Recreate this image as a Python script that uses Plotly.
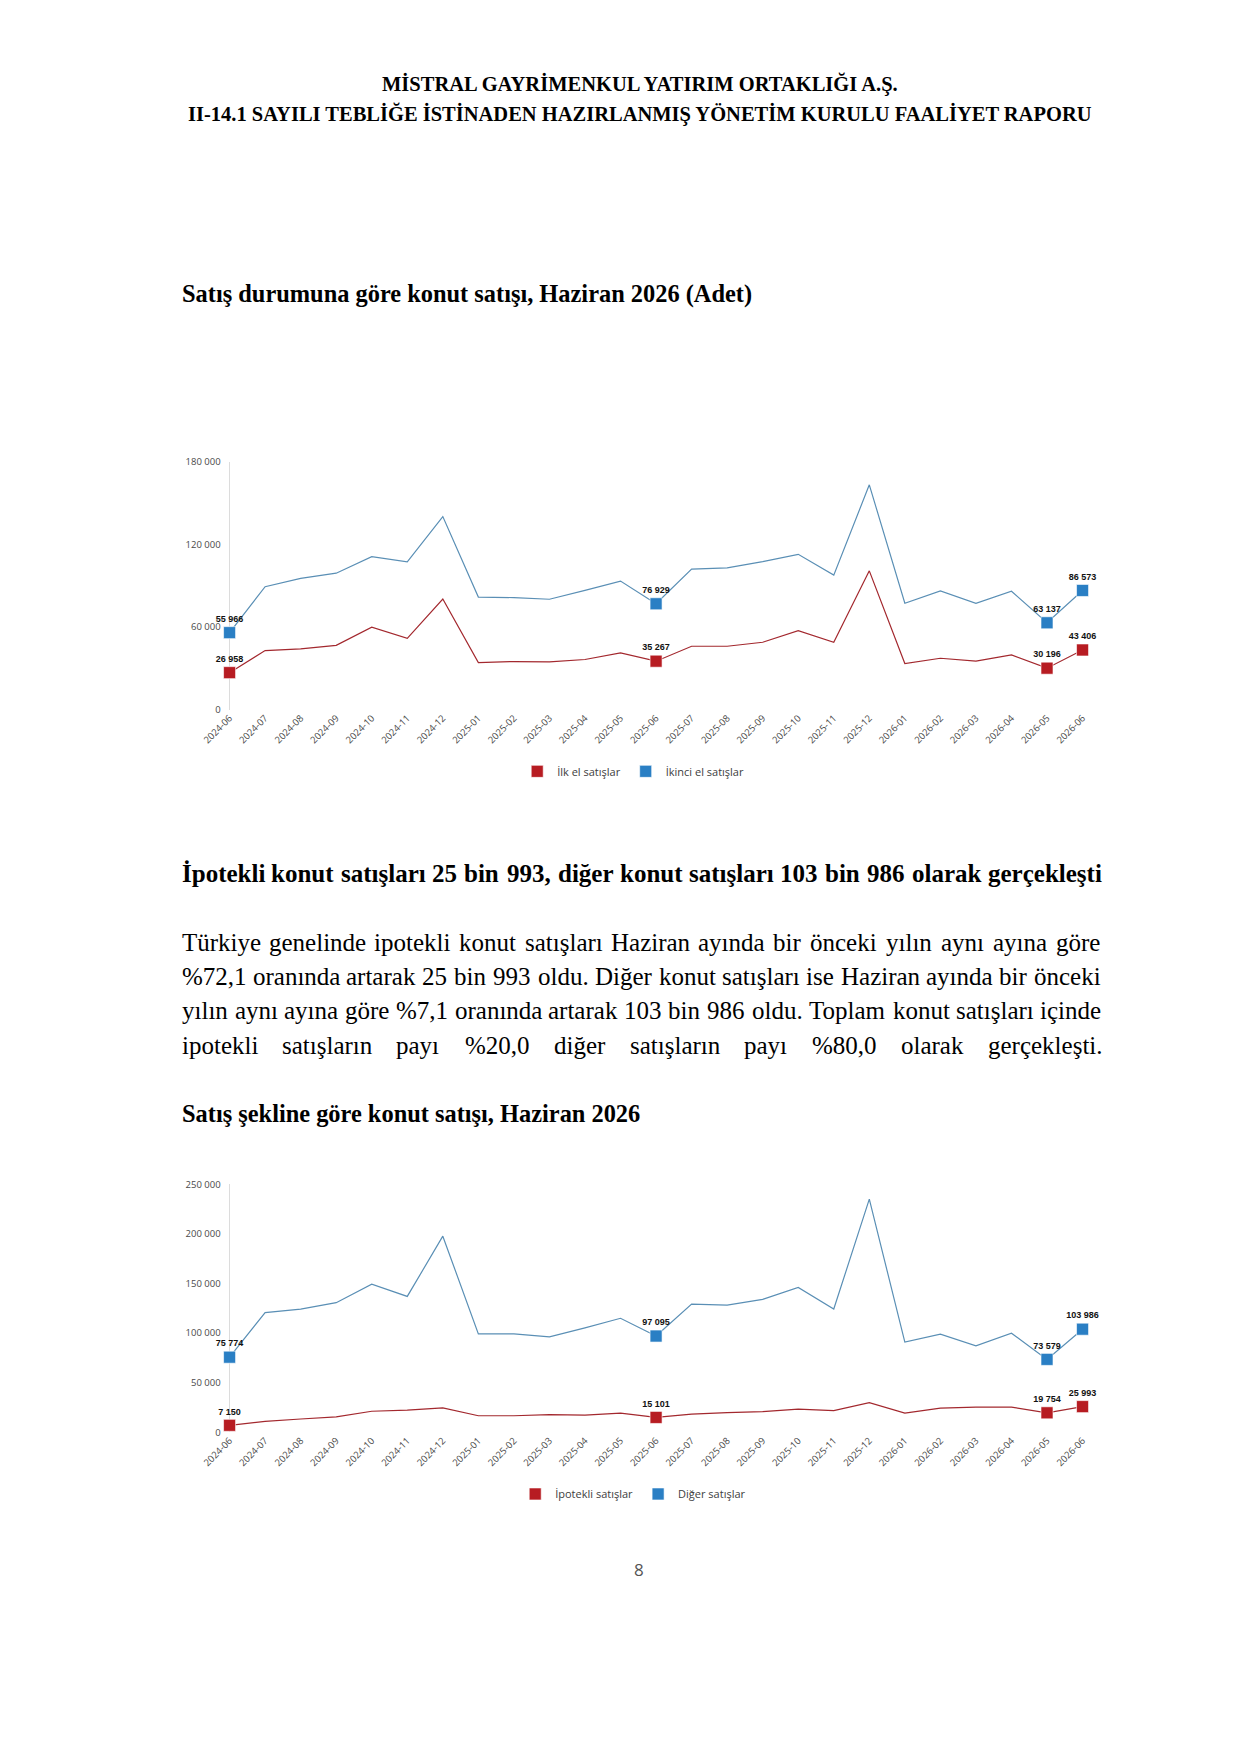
import plotly.graph_objects as go

# page size in px
W, H = 1241, 1754

months = ["2024-06", "2024-07", "2024-08", "2024-09", "2024-10", "2024-11", "2024-12",
          "2025-01", "2025-02", "2025-03", "2025-04", "2025-05", "2025-06", "2025-07",
          "2025-08", "2025-09", "2025-10", "2025-11", "2025-12", "2026-01", "2026-02",
          "2026-03", "2026-04", "2026-05", "2026-06"]

# chart 1 - satis durumuna gore
ilk_el = [26958, 43000, 44200, 46800, 60000, 51800, 80400, 34300, 35000, 34800, 36500, 41300,
          35267, 46100, 46100, 49000, 57400, 49000, 100800, 33600, 37400, 35300, 39800, 30196, 43406]
ikinci_el = [55966, 89300, 95300, 99100, 111100, 107300, 140200, 81800, 81400, 80200, 86600, 93400,
             76929, 102000, 103000, 107500, 112800, 97700, 163200, 77300, 86200, 77300, 86000, 63137, 86573]

# chart 2 - satis sekline gore
ipotekli = [7150, 11200, 13500, 15700, 21300, 22400, 24700, 16800, 16800, 17900, 17500, 19500,
            15101, 18500, 20000, 21000, 23500, 22000, 30000, 19500, 24500, 25500, 25500, 19754, 25993]
diger = [75774, 120700, 124300, 130700, 149300, 137000, 197700, 99300, 99300, 96300, 105300, 115000,
         97095, 129300, 128300, 134000, 146000, 124300, 235000, 91000, 99000, 87300, 100000, 73579, 103986]

labeled = [0, 12, 23, 24]  # points with a square + value

ticks1 = [0, 60000, 120000, 180000]
ticks2 = [0, 50000, 100000, 150000, 200000, 250000]

RED_LINE, BLUE_LINE = "#a3282e", "#5a8fb5"
RED, BLUE = "#b71c22", "#2a7fc4"


def px(x):
    return x / W


def py(y):
    return 1 - y / H


fig = go.Figure()


def add_series(vals, name, line_c, mark_c, xa, ya, leg):
    fig.add_trace(go.Scatter(x=months, y=vals, mode="lines", line=dict(color=line_c, width=1.2),
                             xaxis=xa, yaxis=ya, showlegend=False, hoverinfo="skip"))
    fig.add_trace(go.Scatter(x=[months[i] for i in labeled], y=[vals[i] for i in labeled],
                             mode="markers+text", name=name, legend=leg,
                             marker=dict(symbol="square", size=12, color=mark_c,
                                         line=dict(color="white", width=0.6)),
                             texttemplate="<b>%{y:,.0f}</b>", textposition="top center",
                             textfont=dict(family="Liberation Sans", size=9, color="#111"),
                             cliponaxis=False, xaxis=xa, yaxis=ya))


add_series(ilk_el, "İlk el satışlar", RED_LINE, RED, "x", "y", "legend")
add_series(ikinci_el, "İkinci el satışlar", BLUE_LINE, BLUE, "x", "y", "legend")
add_series(ipotekli, "İpotekli satışlar", RED_LINE, RED, "x2", "y2", "legend2")
add_series(diger, "Diğer satışlar", BLUE_LINE, BLUE, "x2", "y2", "legend2")

tickfont = dict(family="Open Sans", size=9.5, color="#4a4a4a")
legfont = dict(family="Open Sans", size=11, color="#404040")
xdom = [px(198), px(1075)]

fig.update_layout(
    width=W, height=H, margin=dict(l=0, r=0, t=0, b=0),
    paper_bgcolor="white", plot_bgcolor="rgba(0,0,0,0)",
    separators=". ",
    xaxis=dict(domain=xdom, anchor="y", type="category", range=[0, 24], showgrid=False,
               zeroline=False, showline=False, tickangle=-45, tickfont=tickfont, ticks=""),
    yaxis=dict(domain=[py(700), py(450)], anchor="x", range=[0, 180000], tickvals=ticks1,
               tickformat=",.0f", showgrid=False, zeroline=False, showline=True, layer="below traces",
               linecolor="#dcdcdc", linewidth=1, tickfont=tickfont, ticks="", ticklabelstandoff=6),
    xaxis2=dict(domain=xdom, anchor="y2", type="category", range=[0, 24], showgrid=False,
                zeroline=False, showline=False, tickangle=-45, tickfont=tickfont, ticks=""),
    yaxis2=dict(domain=[py(1428), py(1178)], anchor="x2", range=[0, 250000], tickvals=ticks2,
                tickformat=",.0f", showgrid=False, zeroline=False, showline=True, layer="below traces",
                linecolor="#dcdcdc", linewidth=1, tickfont=tickfont, ticks="", ticklabelstandoff=6),
    legend=dict(orientation="h", x=px(613), xanchor="center", y=py(762), yanchor="middle",
                font=legfont, itemwidth=30),
    legend2=dict(orientation="h", x=px(613), xanchor="center", y=py(1490), yanchor="middle",
                 font=legfont, itemwidth=30),
)

# Times-like glyph widths (per 1000 em) to justify the text lines
REG = {" ": 250, "%": 833, ",": 250, ".": 250, "-": 333, "(": 333, ")": 333,
       "a": 444, "b": 500, "c": 444, "d": 500, "e": 444, "f": 333, "g": 500, "h": 500, "i": 278,
       "j": 278, "k": 500, "l": 278, "m": 778, "n": 500, "o": 500, "p": 500, "r": 333, "s": 389,
       "t": 278, "u": 500, "v": 500, "y": 500, "z": 444, "ç": 444, "ğ": 500, "ı": 278, "ö": 500,
       "ş": 389, "ü": 500, "T": 611, "D": 722, "H": 722, "İ": 333}
BOLD = {" ": 250, ",": 250, ".": 250, "a": 500, "b": 556, "c": 444, "d": 556, "e": 444, "f": 333,
        "g": 500, "h": 556, "i": 278, "k": 556, "l": 278, "m": 833, "n": 556, "o": 500, "p": 556,
        "r": 444, "s": 389, "t": 333, "u": 556, "y": 500, "z": 444, "ç": 444, "ğ": 500, "ı": 278,
        "ö": 500, "ş": 389, "ü": 556, "İ": 389}

SERIF = "Liberation Serif"


def width(word, table, size):
    return sum(table.get(ch, 500) for ch in word) * size / 1000


def justify(line, y, size, bold, left=148, right=1091):
    table = BOLD if bold else REG
    words = line.split(" ")
    ws = [width(w, table, size) for w in words]
    gap = (right - left - sum(ws)) / (len(words) - 1)
    x = left
    for w, wd in zip(words, ws):
        txt = "<b>%s</b>" % w if bold else w
        fig.add_annotation(x=px(x), y=py(y), xref="paper", yref="paper", text=txt,
                           showarrow=False, xanchor="left", yanchor="middle", borderpad=0,
                           font=dict(family=SERIF, size=size, color="black"))
        x += wd + gap


def text(s, x, y, size, anchor="left", family=SERIF, color="black"):
    fig.add_annotation(x=px(x), y=py(y), xref="paper", yref="paper", text=s, showarrow=False,
                       xanchor=anchor, yanchor="middle", borderpad=0,
                       font=dict(family=family, size=size, color=color))


text("<b>MİSTRAL GAYRİMENKUL YATIRIM ORTAKLIĞI A.Ş.</b>", 620, 70, 20.5, "center")
text("<b>II-14.1 SAYILI TEBLİĞE İSTİNADEN HAZIRLANMIŞ YÖNETİM KURULU FAALİYET RAPORU</b>",
     620, 100, 20.5, "center")
text("<b>Satış durumuna göre konut satışı, Haziran 2026 (Adet)</b>", 148, 281, 24.4)

justify("İpotekli konut satışları 25 bin 993, diğer konut satışları 103 bin 986 olarak gerçekleşti",
        865, 25, True)
para = ["Türkiye genelinde ipotekli konut satışları Haziran ayında bir önceki yılın aynı ayına göre",
        "%72,1 oranında artarak 25 bin 993 oldu. Diğer konut satışları ise Haziran ayında bir önceki",
        "yılın aynı ayına göre %7,1 oranında artarak 103 bin 986 oldu. Toplam konut satışları içinde",
        "ipotekli satışların payı %20,0 diğer satışların payı %80,0 olarak gerçekleşti."]
for i, line in enumerate(para):
    justify(line, 934 + i * 34.7, 25, False)

text("<b>Satış şekline göre konut satışı, Haziran 2026</b>", 148, 1107, 24.4)
text("8", 619, 1566, 17, "center", family="Open Sans", color="#555555")

fig.write_html("out.html")
